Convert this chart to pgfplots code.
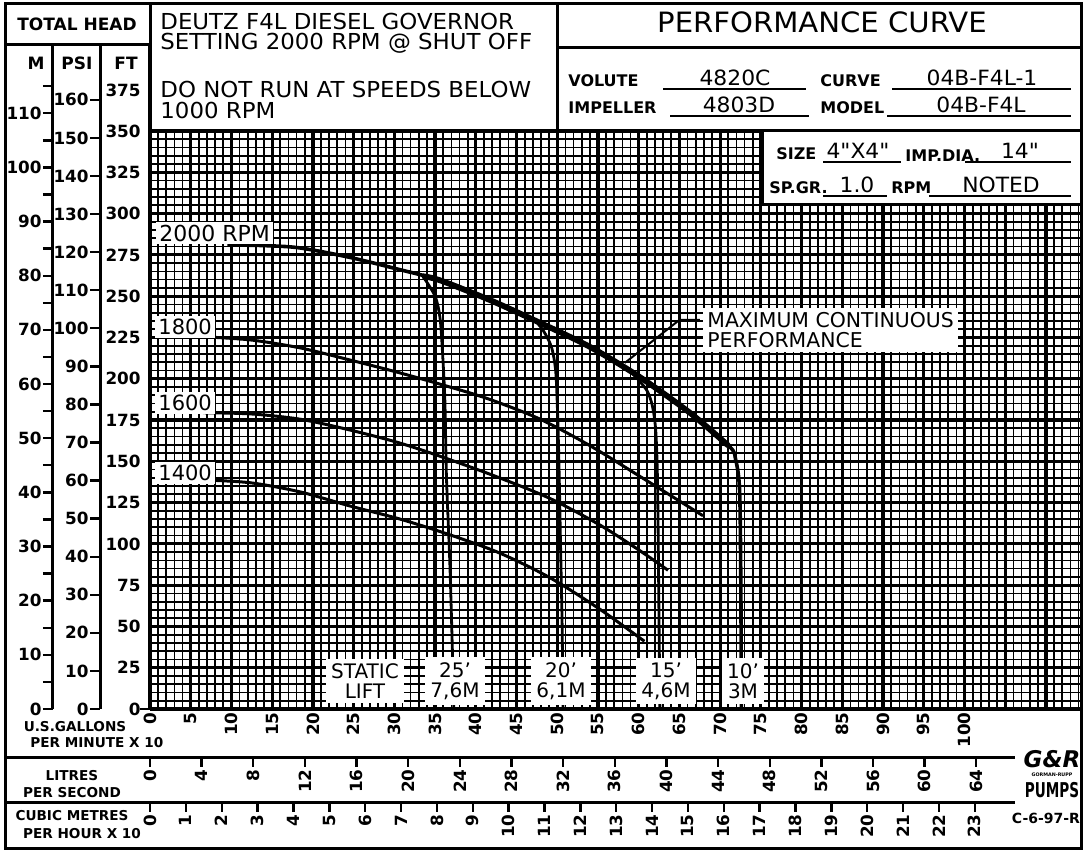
\documentclass[border=0pt]{standalone}
\usepackage{fontspec}
\setmainfont{DejaVu Sans}
\newfontfamily\cad[FakeStretch=1.04]{DejaVu Sans}
\usepackage{pgfplots}
\pgfplotsset{compat=1.18}
\pgfplotsset{/pgf/number format/assume math mode=true}
\newcommand{\sz}[1]{\fontsize{#1}{#1}\selectfont}
\newcommand{\numfont}{\sz{8.4}\bfseries}

\begin{document}
\begin{tikzpicture}[x=0.5pt,y=0.5pt]
\path[use as bounding box] (0,0) rectangle (1084,852);

% ---------------- main grid axis (x: 10 GPM units, y: feet) ----------------
\begin{axis}[
  at={(75pt,71.5pt)}, anchor=south west, scale only axis,
  width=465.5pt, height=289pt,
  xmin=0, xmax=114.3, ymin=0, ymax=350,
  xtick={0,5,...,110}, minor xtick={0,1,...,114},
  ytick={0,25,...,350}, minor ytick={0,5,...,350},
  grid=both,
  major grid style={black, line width=1.6pt},
  minor grid style={black, line width=0.85pt},
  major tick length=0pt, minor tick length=0pt,
  yticklabels={},
  xticklabels={0,5,10,15,20,25,30,35,40,45,50,55,60,65,70,75,80,85,90,95,100,{},{}},
  xticklabel style={rotate=90, anchor=east, font=\numfont, inner sep=1.5pt},
  axis line style={black, line width=1.5pt},
  every axis plot/.append style={black, smooth, no markers},
]
% 2000 RPM with 10 ft static lift
\addplot[line width=1.8pt] coordinates {(9.5,281)(14,280.6)(18.4,279.2)(24.5,273.5)(30.7,266)(35.6,259.6)(41.7,247.7)(47.9,233.8)(54.0,219.3)(60.1,201.1)(66.3,179.3)(71.2,158.7)(71.9,151)(72.3,139)(72.45,120)(72.55,66)(72.6,0)};
% maximum continuous performance (heavy)
\addplot[line width=2.9pt] coordinates {(33.5,262)(35.6,259.6)(41.7,247.7)(47.9,233.8)(54.0,219.3)(60.1,201.1)(66.3,179.3)(71.0,159.5)};
% 1800
\addplot[line width=1.5pt] coordinates {(6.5,225.4)(12.3,223.5)(18.4,218.7)(24.5,211.4)(30.7,203.5)(36.8,195)(41.7,187.5)(47.9,175.5)(54.0,159.5)(60.1,141)(67.9,117)};
% 1600
\addplot[line width=1.5pt] coordinates {(6.5,179.4)(12.3,178.7)(18.4,175.5)(24.5,169)(30.7,161)(36.8,151)(42.9,140)(49.1,127.5)(55.2,111.5)(60.1,96)(63.6,84)};
% 1400
\addplot[line width=1.5pt] coordinates {(6.5,138.7)(12.3,137)(18.4,131.5)(24.5,123)(30.7,115)(36.8,105.5)(42.9,94.5)(49.1,79.5)(55.2,60.5)(60.7,41)};
% static lift 25 ft
\addplot[line width=1.4pt] coordinates {(33.5,262)(35.0,250)(35.6,237)(35.9,217)(36.2,187)(36.4,140)(36.8,90)(37.1,40)(37.3,0)};
% static lift 20 ft
\addplot[line width=1.4pt] coordinates {(47.0,237)(48.3,229)(49.3,219)(49.8,205)(50.0,185)(50.2,150)(50.4,100)(50.6,50)(50.7,0)};
% static lift 15 ft
\addplot[line width=1.4pt] coordinates {(59.0,204.5)(60.2,198)(61.1,192)(61.7,183)(62.1,168)(62.3,140)(62.4,100)(62.5,50)(62.6,0)};
% pointer
\addplot[line width=1pt, sharp plot] coordinates {(58.3,209.6)(65.0,235.6)(67.5,235.6)};
\end{axis}

% ---------------- left scales ----------------
\begin{axis}[at={(26.5pt,71.5pt)}, anchor=south west, scale only axis, width=10pt, height=332pt,
  xmin=0,xmax=1,ymin=0,ymax=122.6, axis x line=none, axis y line=left,
  axis line style={-, black, line width=1.5pt},
  ytick={0,10,...,110}, minor ytick={5,15,...,115}, tick align=outside,
  major tick length=5pt, minor tick length=5pt, tick style={black, line width=1.2pt},
  yticklabel style={font=\numfont, inner sep=0.5pt}]
\end{axis}
\begin{axis}[at={(50pt,71.5pt)}, anchor=south west, scale only axis, width=10pt, height=332pt,
  xmin=0,xmax=1,ymin=0,ymax=174.4, axis x line=none, axis y line=left,
  axis line style={-, black, line width=1.5pt},
  ytick={0,10,...,160}, tick align=outside,
  major tick length=5pt, tick style={black, line width=1.2pt},
  yticklabel style={font=\numfont, inner sep=0.5pt}]
\end{axis}
\begin{axis}[at={(75pt,71.5pt)}, anchor=south west, scale only axis, width=10pt, height=332pt,
  xmin=0,xmax=1,ymin=0,ymax=402.2, axis x line=none, axis y line=left,
  axis line style={-, black, line width=1.5pt},
  ytick={0,25,...,375}, tick align=outside,
  major tick length=0pt, tick style={black, line width=1.2pt},
  yticklabel style={font=\numfont, inner sep=0.5pt, xshift=-4pt},
  extra y ticks={0}, extra y tick labels={},
  extra y tick style={major tick length=5pt}]
\end{axis}

% ---------------- bottom scales ----------------
\begin{axis}[at={(75pt,47pt)}, anchor=south west, scale only axis, width=465.5pt, height=5pt,
  xmin=0,xmax=72.11,ymin=0,ymax=1, axis y line=none, axis x line=bottom,
  axis line style={draw=none},
  xtick={0,4,...,64}, tick align=outside, major tick length=4.5pt,
  tick style={black, line width=1.2pt},
  xticklabel style={rotate=90, anchor=east, font=\numfont, inner sep=1pt}]
\end{axis}
\begin{axis}[at={(75pt,24.5pt)}, anchor=south west, scale only axis, width=465.5pt, height=5pt,
  xmin=0,xmax=25.96,ymin=0,ymax=1, axis y line=none, axis x line=bottom,
  axis line style={draw=none},
  xtick={0,1,...,23}, tick align=outside, major tick length=4.5pt,
  tick style={black, line width=1.2pt},
  xticklabel style={rotate=90, anchor=east, font=\numfont, inner sep=1pt}]
\end{axis}

% ---------------- frame and header ----------------
\begin{scope}[line width=1.5pt]
\draw (5,3) rectangle (1081,848);
\draw (5,807) -- (150,807);
\draw (150,848) -- (150,143);
\draw (557,848) -- (557,721);
\draw (557,804) -- (1081,804);
\draw (150,721) -- (1081,721);
\draw (5,94) -- (1015,94);
\draw (5,49) -- (1015,49);
\fill[white] (763,647) rectangle (1080,720);
\draw (762,721) -- (762,647) -- (1081,647);
\end{scope}

\node[font=\sz{8.5}\bfseries] at (77,828) {TOTAL HEAD};
\node[font=\sz{8.5}\bfseries] at (36,789) {M};
\node[font=\sz{8.5}\bfseries] at (77,789) {PSI};
\node[font=\sz{8.5}\bfseries] at (126,789) {FT};

\begin{scope}[every node/.style={anchor=west, inner sep=0pt, font=\cad\sz{11}}]
\node at (160,831) {DEUTZ F4L DIESEL GOVERNOR};
\node at (160,809) {SETTING 2000 RPM @ SHUT OFF};
\node at (160,763) {DO NOT RUN AT SPEEDS BELOW};
\node at (160,742) {1000 RPM};
\end{scope}

\node[font=\cad\sz{14}] at (822,830) {PERFORMANCE CURVE};

\begin{scope}[every node/.style={anchor=west, inner sep=0pt, font=\sz{8}\bfseries}]
\node at (568,771) {VOLUTE};
\node at (820,771) {CURVE};
\node at (568,744) {IMPELLER};
\node at (820,744) {MODEL};
\node at (776,698) {SIZE};
\node at (905,696) {IMP.DIA.};
\node at (769,664) {SP.GR.};
\node at (891,664) {RPM};
\end{scope}
\begin{scope}[every node/.style={inner sep=0pt, font=\cad\sz{10.5}}]
\node at (735,774) {4820C};
\node at (982,774) {04B-F4L-1};
\node at (739,747) {4803D};
\node at (981,747) {04B-F4L};
\node at (858,701) {4"X4"};
\node at (1020,701) {14"};
\node at (857,667) {1.0};
\node at (1001,667) {NOTED};
\end{scope}
\begin{scope}[line width=0.8pt]
\draw (663,763) -- (806,763);
\draw (892,763) -- (1071,763);
\draw (670,736) -- (809,736);
\draw (887,736) -- (1071,736);
\draw (823,690) -- (901,690);
\draw (965,690) -- (1071,690);
\draw (823,656) -- (887,656);
\draw (929,656) -- (1071,656);
\end{scope}

% ---------------- labels inside the grid ----------------
\begin{scope}[every node/.style={fill=white, inner sep=1.5pt}]
\node[anchor=west, font=\sz{11}] at (156,619) {2000 RPM};
\node[anchor=west, font=\sz{10.5}] at (155,525) {1800};
\node[anchor=west, font=\sz{10.5}] at (155,449) {1600};
\node[anchor=west, font=\sz{10.5}] at (155,379) {1400};
\node[anchor=north west, align=left, font=\sz{10.2}, inner sep=2pt] at (703,544) {MAXIMUM CONTINUOUS\\PERFORMANCE};
\node[align=center, font=\sz{10}, inner sep=2.5pt] at (365,171) {STATIC\\LIFT};
\node[align=center, font=\sz{10}, inner sep=2.5pt] at (455,171) {25'\\7,6M};
\node[align=center, font=\sz{10}, inner sep=2.5pt] at (561,171) {20'\\6,1M};
\node[align=center, font=\sz{10}, inner sep=2.5pt] at (666,171) {15'\\4,6M};
\node[align=center, font=\sz{10}, inner sep=2.5pt] at (743,171) {10'\\3M};
\end{scope}

% ---------------- bottom row labels ----------------
\begin{scope}[every node/.style={inner sep=0pt, font=\sz{6.8}\bfseries}]
\node at (75,125) {U.S.GALLONS};
\node[anchor=west] at (30,109) {PER MINUTE X 10};
\node at (72,76) {LITRES};
\node at (72,59) {PER SECOND};
\node at (72,36) {CUBIC METRES};
\node at (82,18) {PER HOUR X 10};
\node[font=\sz{7}\bfseries] at (1046,34) {C-6-97-R};
\end{scope}
\node[inner sep=0pt, font=\sz{11.5}\bfseries\itshape] at (1052,93) {G\&R};
\node[inner sep=0pt, font=\sz{2.4}\bfseries] at (1052,77) {GORMAN-RUPP};
\node[inner sep=0pt, font=\sz{8.5}\bfseries] at (1052,62) {\scalebox{0.8}[1.2]{PUMPS}};
\end{tikzpicture}
\end{document}
